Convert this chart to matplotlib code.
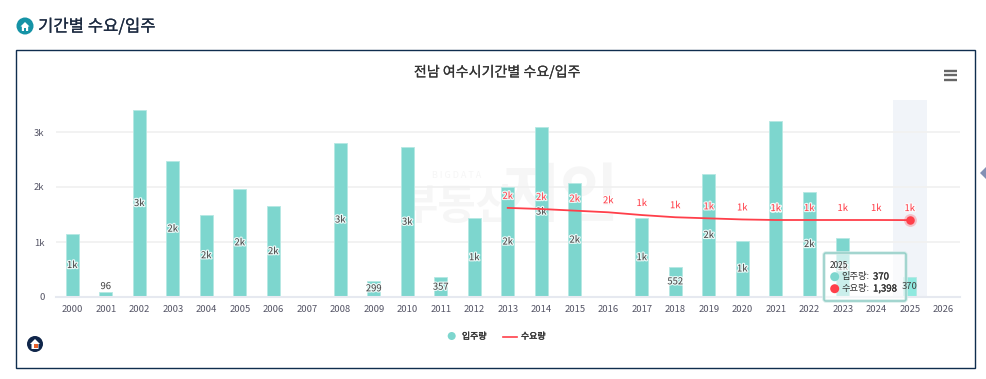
import matplotlib
matplotlib.use('Agg')
import matplotlib.pyplot as plt
import matplotlib.patheffects as pe
from matplotlib.patches import Circle, FancyBboxPatch, Polygon, Rectangle

plt.rcParams['font.family'] = ['Noto Sans CJK KR', 'DejaVu Sans']

years = list(range(2000, 2027))
supply = [1145, 96, 3400, 2470, 1500, 1970, 1650, None, 2800, 299, 2720, 357, 1430, 2000,
          3090, 2070, None, 1430, 552, 2240, 1020, 3200, 1910, 1070, None, 370, None]
demand = [None] * 13 + [1620, 1600, 1570, 1540, 1490, 1450, 1430, 1410, 1400, 1400, 1400, 1400, 1398, None]
y_ticks = [0, 1000, 2000, 3000]
y_tick_labels = ['0', '1k', '2k', '3k']

W, H = 986, 379
TEAL = '#7dd6ce'
RED = '#ff3f4a'
DARK = '#444444'
AX_L, AX_R, AX_T, AX_B = 55.5, 960, 99.5, 297


def short(v):
    if v < 1000:
        return str(v)
    return f'{int(v / 1000 + 0.5)}k'


def house(ax, cx, cy, r, col):
    ax.add_patch(Polygon([(cx - r, cy), (cx, cy - r), (cx + r, cy), (cx + r * .7, cy), (cx + r * .7, cy + r),
                          (cx - r * .7, cy + r), (cx - r * .7, cy)], fc=col, ec='none'))


def thick(col, w=0.3):
    return [pe.withStroke(linewidth=w, foreground=col)]


halo = [pe.withStroke(linewidth=1.8, foreground='#ffffffd0')]

fig = plt.figure(figsize=(W / 100, H / 100), dpi=100)

# page background, frame, watermark
bg = fig.add_axes([0, 0, 1, 1], zorder=0)
bg.set_xlim(0, W)
bg.set_ylim(H, 0)
bg.axis('off')
bg.add_patch(Rectangle((16, 49.5), 959, 318.5, fc='white', ec='#0f2d4e', lw=1.0))
bg.add_patch(Circle((25, 26), 8.5, fc='#1593a6', ec='none'))
house(bg, 25, 26.5, 4.5, 'white')
bg.add_patch(Rectangle((23.6, 27.5), 2.8, 3, fc='#1593a6', ec='none'))
bg.text(38, 27, '기간별 수요/입주', fontsize=12, color='#1c2a40', va='center', ha='left',
        path_effects=thick('#1c2a40', 0.15))
bg.text(497, 72, '전남 여수시기간별 수요/입주', fontsize=10.1, color='#333333', va='center', ha='center',
        path_effects=thick('#333333', 0.15))
bg.text(457, 207, '부동산', fontsize=30, color='#f6f6f6', va='center', ha='center', fontweight='bold')
bg.text(561, 197, '지인', fontsize=46, color='#f6f6f6', va='center', ha='center', fontweight='bold')
bg.text(457, 176, 'B I G D A T A', fontsize=6.5, color='#f6f6f6', va='center', ha='center')
for yy in (70.5, 75, 79.5):
    bg.plot([943.5, 957], [yy, yy], color='#666666', lw=1.7, solid_capstyle='butt')
bg.add_patch(Polygon([(980, 173), (986, 167), (986, 179)], fc='#8290b4', ec='none'))
bg.add_patch(Circle((35, 344), 8, fc='#10264a', ec='none'))
house(bg, 35, 344, 5, 'white')
bg.add_patch(Rectangle((33.5, 343.5), 4, 4.5, fc='#e8602c', ec='none'))

# chart
ax = fig.add_axes([AX_L / W, 1 - AX_B / H, (AX_R - AX_L) / W, (AX_B - AX_T) / H], zorder=1)
ax.patch.set_alpha(0)
ax.set_xlim(-0.5, 26.5)
ax.set_ylim(0, (AX_B - AX_T) / 55 * 1000)
for s in ax.spines.values():
    s.set_visible(False)
ax.spines['bottom'].set_visible(True)
ax.spines['bottom'].set_color('#e6e9f0')
ax.spines['bottom'].set_linewidth(1.5)

ax.axvspan(24.5, 25.5, color='#f1f4f9', lw=0, zorder=0)
ax.set_yticks(y_ticks, y_tick_labels)
ax.set_xticks(range(len(years)), [str(y) for y in years])
ax.tick_params(axis='both', length=0, labelsize=6.8, labelcolor='#555566')
ax.tick_params(axis='x', pad=6)
ax.tick_params(axis='y', pad=8)
ax.grid(axis='y', color='#f1f1f1', lw=1.3, zorder=0)
ax.set_axisbelow(True)

for i, v in enumerate(supply):
    if v is None:
        continue
    col = '#8fe9df' if years[i] == 2025 else TEAL
    ax.bar(i, v, width=0.385, color=col, edgecolor='#b5e8e3', linewidth=0.6, zorder=2)
    if years[i] == 2025:
        continue
    if v < 200:
        ax.annotate(short(v), (i, v), xytext=(0, 0.5), textcoords='offset points', ha='center', va='bottom',
                    fontsize=6.8, color=DARK, path_effects=halo, zorder=4)
    else:
        ax.text(i, v / 2, short(v), ha='center', va='center', fontsize=6.8, color=DARK,
                path_effects=halo, zorder=4)

xs = [i for i, v in enumerate(demand) if v is not None]
ys = [demand[i] for i in xs]
ax.plot(xs, ys, color=RED, lw=1.3, zorder=5)
for x, y in zip(xs, ys):
    ax.annotate(short(y), (x, y), xytext=(0, 8.3), textcoords='offset points', ha='center', va='center',
                fontsize=6.8, color=RED, path_effects=halo, zorder=6)
ax.scatter(xs[-1], ys[-1], s=85, color=RED, alpha=0.28, lw=0, zorder=6)
ax.scatter(xs[-1], ys[-1], s=38, color=RED, lw=0, zorder=7)

# legend and tooltip
fg = fig.add_axes([0, 0, 1, 1], zorder=2)
fg.set_xlim(0, W)
fg.set_ylim(H, 0)
fg.axis('off')
fg.add_patch(Circle((451.7, 336), 4, fc=TEAL, ec='none'))
fg.text(462, 336.5, '입주량', fontsize=6.4, color='#333333', va='center', path_effects=thick('#333333', 0.25))
fg.plot([503, 517], [336.5, 336.5], color=RED, lw=1.2)
fg.text(521, 336.5, '수요량', fontsize=6.4, color='#333333', va='center', path_effects=thick('#333333', 0.25))

fg.add_patch(FancyBboxPatch((824, 253), 82, 48, boxstyle='round,pad=0,rounding_size=2', fc='white', alpha=0.6,
                            ec='none'))
fg.add_patch(FancyBboxPatch((824, 253), 82, 48, boxstyle='round,pad=0,rounding_size=2', fc='none',
                            ec='#d3ebe8', lw=2.4))
fg.add_patch(FancyBboxPatch((824, 253), 82, 48, boxstyle='round,pad=0,rounding_size=2', fc='none',
                            ec='#95cfc8', lw=1.1))
fg.text(830, 265.5, '2025', fontsize=6, color='#333333', va='center')
fg.add_patch(Circle((834.7, 276.7), 4.5, fc=TEAL, ec='none'))
fg.add_patch(Circle((834.7, 288.7), 4.5, fc=RED, ec='none'))
fg.text(841.7, 277, '입주량:', fontsize=6.7, color='#333333', va='center')
fg.text(873, 277, '370', fontsize=6.9, color='#333333', va='center', path_effects=thick('#333333', 0.2))
fg.text(841.7, 289, '수요량:', fontsize=6.7, color='#333333', va='center')
fg.text(873, 289, '1,398', fontsize=6.9, color='#333333', va='center', path_effects=thick('#333333', 0.2))
# 2025 bar label sits over the tooltip border
last = years.index(2025)
fg.annotate(short(supply[last]), (last, supply[last] / 2), xycoords=ax.transData, ha='center', va='center',
            fontsize=6.8, color=DARK)

fig.savefig('out.png', dpi=100)
